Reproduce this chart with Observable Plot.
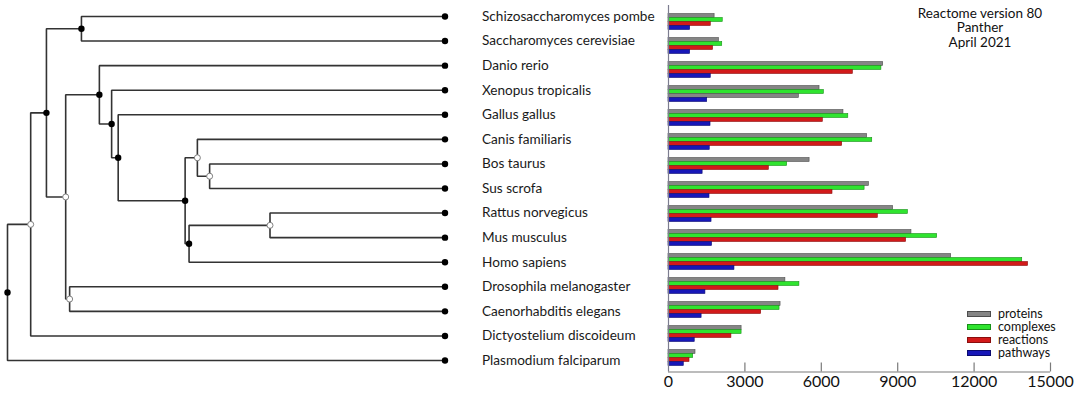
<!DOCTYPE html>
<html>
<head>
<meta charset="utf-8">
<script src="https://cdn.jsdelivr.net/npm/d3@7"></script>
<script src="https://cdn.jsdelivr.net/npm/@observablehq/plot@0.6"></script>
<style>
  body { margin: 0; background: #fff; font-family: Lato, "Open Sans", sans-serif; }
  #chart { position: relative; width: 1080px; height: 399px; overflow: hidden; background: #fff; }
  #chart > svg, #chart > div.layer { position: absolute; left: 0; top: 0; }
  #title { position: absolute; left: 880px; width: 200px; top: 6px; text-align: center;
           font-size: 13.5px; line-height: 14.3px; color: #111; }
  #title div { height: 14.3px; overflow: visible; }
  #legend { position: absolute; left: 967px; top: 307px; font-size: 12.5px; color: #111; }
  #legend .row { height: 13px; display: flex; align-items: center; }
  #legend .sw { width: 22px; height: 4px; margin-right: 7px; border-width: 0.8px; border-style: solid; }
</style>
</head>
<body>
<div id="chart"></div>
<script>
// ---------------- data ----------------
const species = [
  "Schizosaccharomyces pombe", "Saccharomyces cerevisiae", "Danio rerio", "Xenopus tropicalis",
  "Gallus gallus", "Canis familiaris", "Bos taurus", "Sus scrofa", "Rattus norvegicus",
  "Mus musculus", "Homo sapiens", "Drosophila melanogaster", "Caenorhabditis elegans",
  "Dictyostelium discoideum", "Plasmodium falciparum"
];
const seriesNames = ["proteins", "complexes", "reactions", "pathways"];
const proteins  = [1810, 1980, 8430, 5930, 6870, 7800, 5540, 7870, 8820,  9540, 11100, 4590, 4400, 2870, 1060];
const complexes = [2130, 2110, 8360, 6100, 7060, 8000, 4660, 7700, 9400, 10550, 13890, 5140, 4360, 2870,  970];
const reactions = [1660, 1750, 7240, 5120, 6060, 6820, 3940, 6440, 8220,  9330, 14120, 4320, 3640, 2470,  825];
const pathways  = [ 850,  850, 1660, 1520, 1650, 1620, 1340, 1610, 1690,  1710,  2590, 1450, 1300, 1030,  600];
const xTicks = [0, 3000, 6000, 9000, 12000, 15000];
const annotation = ["Reactome version 80", "Panther", "April 2021"];
// bar drawn in grey in the original figure
const greyBars = [["Xenopus tropicalis", "reactions"]];

// tree (cladogram): internal clades, their parents, relative depth (root 0, tips 100)
const cladeNames   = ["root", "unikonts", "opisthokonts", "fungi", "animals", "protostomes",
                      "vertebrates", "tetrapods", "amniotes", "mammals", "laurasiatheria",
                      "artiodactyls", "euarchontoglires", "rodents"];
const cladeParents = [null, "root", "unikonts", "opisthokonts", "opisthokonts", "animals",
                      "animals", "vertebrates", "tetrapods", "amniotes", "mammals",
                      "laurasiatheria", "mammals", "euarchontoglires"];
const cladeDepth   = [0, 5.3, 8.9, 16.9, 13.3, 14.2, 21.0, 23.8, 25.3, 40.6, 43.4, 46.2, 41.5, 60.0];
const cladeFilled  = [true, false, true, true, false, false, true, true, true, true, false, false, true, false];
const speciesParents = ["fungi", "fungi", "vertebrates", "tetrapods", "amniotes", "laurasiatheria",
                        "artiodactyls", "artiodactyls", "rodents", "rodents", "euarchontoglires",
                        "protostomes", "protostomes", "unikonts", "root"];
const tipDepth = 100;

// ---------------- styles ----------------
const fillOf   = {proteins: "#858585", complexes: "#2fe42f", reactions: "#d21a1a", pathways: "#1717b8"};
const strokeOf = {proteins: "#4d4d4d", complexes: "#189018", reactions: "#8a0e0e", pathways: "#0b0b70"};
const FONT = "Lato, 'Open Sans', sans-serif";

// ---------------- build tables ----------------
const seriesValues = [proteins, complexes, reactions, pathways];
const bars = species.flatMap((s, i) => seriesNames.map((k, j) => ({species: s, series: k, value: seriesValues[j][i]})));
const isGrey = d => greyBars.some(([s, k]) => s === d.species && k === d.series);

const nodes = new Map();
cladeNames.forEach((n, i) => nodes.set(n, {name: n, parent: cladeParents[i], depth: cladeDepth[i], filled: cladeFilled[i], children: [], tip: false}));
species.forEach((s, i) => nodes.set(s, {name: s, parent: speciesParents[i], depth: tipDepth, y: i, children: [], tip: true}));
for (const n of nodes.values()) if (n.parent) nodes.get(n.parent).children.push(n);
function setY(n) {
  if (n.tip) return n.y;
  const ys = n.children.map(setY);
  n.y = (d3.min(ys) + d3.max(ys)) / 2;
  return n.y;
}
setY(nodes.get("root"));
const allNodes = [...nodes.values()];
const edges = allNodes.filter(n => n.parent).map(n => {
  const p = nodes.get(n.parent);
  return {x1: p.depth, y1: p.y, x2: n.depth, y2: n.y};
});

// ---------------- plots ----------------
const chart = document.getElementById("chart");

const barPlot = Plot.plot({
  width: 1080, height: 399,
  marginLeft: 668, marginRight: 30, marginTop: 6.5, marginBottom: 27.5,
  style: {background: "none", fontFamily: FONT},
  x: {domain: [0, 15000], axis: null},
  y: {domain: seriesNames, paddingInner: 0, paddingOuter: 0.5, axis: null},
  fy: {domain: species, padding: 0, axis: null},
  marks: [
    Plot.barX(bars, {
      x: "value", y: "series", fy: "species",
      fill: d => isGrey(d) ? fillOf.proteins : fillOf[d.series],
      stroke: d => isGrey(d) ? strokeOf.proteins : strokeOf[d.series],
      strokeWidth: 0.6
    })
  ]
});
chart.appendChild(barPlot);

const axisPlot = Plot.plot({
  width: 1080, height: 399,
  marginLeft: 668, marginRight: 30, marginTop: 5, marginBottom: 27.5,
  style: {background: "none", fontFamily: FONT},
  x: {domain: [0, 15000], axis: null},
  y: {domain: [0, 1], axis: null},
  marks: [
    Plot.ruleX([0], {stroke: "#7d7d90", strokeWidth: 1.2}),
    Plot.ruleY([0], {stroke: "#7a7a7a", strokeWidth: 1.2}),
    Plot.tickX(xTicks.slice(1), {x: d => d, stroke: "#7a7a7a", strokeWidth: 1.2, insetTop: 399 - 5 - 27.5 - 9}),
    Plot.text(xTicks, {x: d => d, text: d => String(d), frameAnchor: "bottom", dy: 15, fontSize: 16, fill: "#111"})
  ]
});
chart.appendChild(axisPlot);

const treePlot = Plot.plot({
  width: 668, height: 399,
  margin: 0,
  style: {background: "none", fontFamily: FONT},
  x: {domain: [0, tipDepth], range: [7, 444.5], axis: null},
  y: {domain: [0, species.length - 1], range: [16, 360], axis: null},
  marks: [
    Plot.link(edges, {x1: "x1", y1: "y1", x2: "x2", y2: "y2", curve: "step-before", stroke: "#333", strokeWidth: 1.6}),
    Plot.dot(allNodes.filter(n => n.tip), {x: "depth", y: "y", r: 3.2, fill: "#000", stroke: "none"}),
    Plot.dot(allNodes.filter(n => !n.tip && n.filled), {x: "depth", y: "y", r: 3.2, fill: "#000", stroke: "none"}),
    Plot.dot(allNodes.filter(n => !n.tip && !n.filled), {x: "depth", y: "y", r: 3, fill: "#fff", stroke: "#808080", strokeWidth: 1}),
    Plot.text(species, {x: tipDepth, y: (d, i) => i, text: d => d, dx: 37, textAnchor: "start", fontSize: 13.6, fill: "#1a1a1a"})
  ]
});
chart.appendChild(treePlot);

// title annotation
const title = document.createElement("div");
title.id = "title";
annotation.forEach(t => { const l = document.createElement("div"); l.textContent = t; title.appendChild(l); });
chart.appendChild(title);

// legend
const legend = document.createElement("div");
legend.id = "legend";
seriesNames.forEach(k => {
  const row = document.createElement("div"); row.className = "row";
  const sw = document.createElement("span"); sw.className = "sw";
  sw.style.background = fillOf[k]; sw.style.borderColor = strokeOf[k];
  const t = document.createElement("span"); t.textContent = k;
  row.appendChild(sw); row.appendChild(t); legend.appendChild(row);
});
chart.appendChild(legend);
</script>
</body>
</html>
